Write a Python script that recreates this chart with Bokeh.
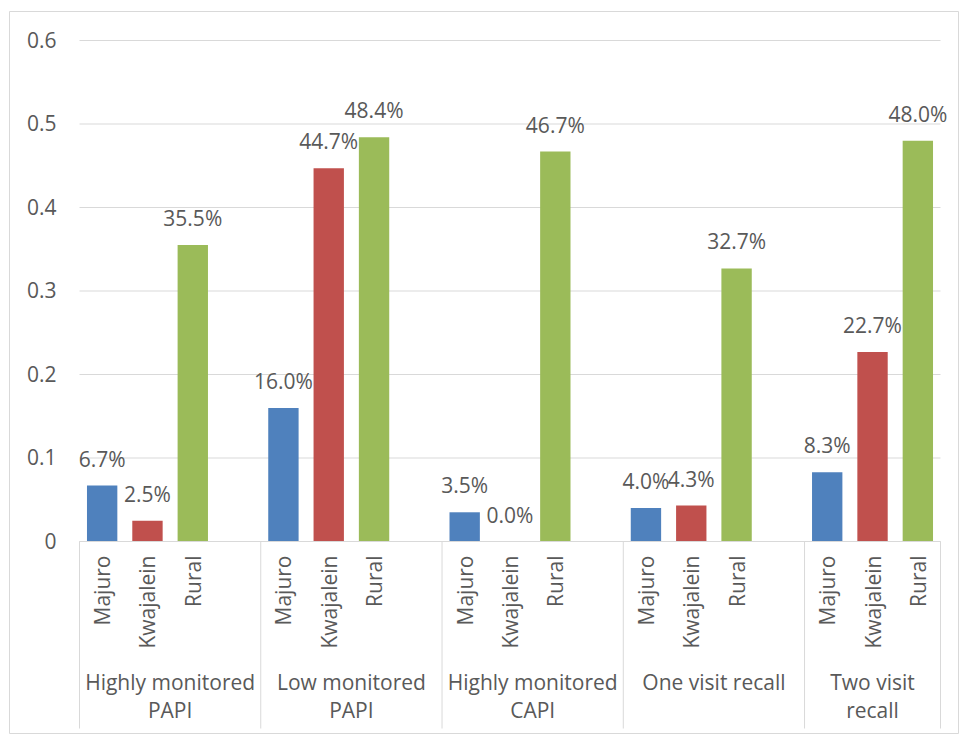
import math

from bokeh.core.properties import value
from bokeh.embed import file_html
from bokeh.models import ColumnDataSource, Range1d
from bokeh.plotting import figure
from bokeh.resources import INLINE

# ---- data -----------------------------------------------------------------
regions = ["Majuro", "Kwajalein", "Rural"]
group_line1 = ["Highly monitored", "Low monitored", "Highly monitored",
               "One visit recall", "Two visit"]
group_line2 = ["PAPI", "PAPI", "CAPI", "", "recall"]

majuro = [0.067, 0.160, 0.035, 0.040, 0.083]
kwajalein = [0.025, 0.447, 0.000, 0.043, 0.227]
rural = [0.355, 0.484, 0.467, 0.327, 0.480]

y_ticks = [0.0, 0.1, 0.2, 0.3, 0.4, 0.5, 0.6]
y_tick_labels = ["0", "0.1", "0.2", "0.3", "0.4", "0.5", "0.6"]

colors = ["#4F81BD", "#C0504D", "#9BBB59"]

# ---- layout (pixels) ------------------------------------------------------
W, H = 959, 734
frame_left, frame_top = 9, 11
plot_x0, plot_x1 = 79, 940          # category axis extent
y0_px, ytop_px = 541, 40            # pixel rows of 0 and of the top tick
sep_bottom_px = 728

slots_per_group = len(regions) + 1  # one empty slot between groups
n_groups = len(group_line1)
n_slots = slots_per_group * n_groups - 1

slot_px = (plot_x1 - plot_x0) / n_slots
unit_px = (y0_px - ytop_px) / y_ticks[-1]

x_range = Range1d(-(plot_x0 - frame_left) / slot_px,
                  n_slots + (W - plot_x1) / slot_px)
y_range = Range1d(-(H - y0_px) / unit_px, (y0_px - frame_top) / unit_px)
sep_bottom = -(sep_bottom_px - y0_px) / unit_px

TEXT = "#595959"
LINE = "#D9D9D9"
FONT = value("Open Sans")
FS = "21px"

p = figure(width=W, height=H, x_range=x_range, y_range=y_range,
           output_backend="svg", toolbar_location=None,
           x_axis_location=None, y_axis_location=None,
           min_border_left=frame_left, min_border_top=frame_top,
           min_border_right=0, min_border_bottom=0)
p.grid.visible = False
p.outline_line_color = LINE
p.background_fill_color = "white"
p.border_fill_color = "white"

# ---- horizontal grid lines and value-axis labels --------------------------
p.segment(x0=[0] * len(y_ticks), x1=[n_slots] * len(y_ticks),
          y0=y_ticks, y1=y_ticks, line_color=LINE, line_width=1)
p.text(x=[0] * len(y_ticks), y=y_ticks, text=y_tick_labels,
       x_offset=-23, y_offset=-1, text_align="right", text_baseline="middle",
       text_font=FONT, text_font_size=FS, text_color=TEXT)

# ---- bars -----------------------------------------------------------------
series = [majuro, kwajalein, rural]
bar_x, bar_top, bar_color, bar_label, sub_label = [], [], [], [], []
for gi in range(n_groups):
    for ri, name in enumerate(regions):
        v = series[ri][gi]
        bar_x.append(gi * slots_per_group + ri + 0.5)
        bar_top.append(v)
        bar_color.append(colors[ri])
        bar_label.append(f"{v * 100:.1f}%")
        sub_label.append(name)

src = ColumnDataSource(dict(x=bar_x, top=bar_top, color=bar_color,
                            label=bar_label, sub=sub_label,
                            zero=[0.0] * len(bar_x)))

p.vbar(x="x", top="top", bottom=0, width=0.67, fill_color="color",
       line_color=None, source=src)

# value labels above the bars
p.text(x="x", y="top", text="label", y_offset=-27, text_align="center",
       text_baseline="middle", text_font=FONT, text_font_size=FS,
       text_color=TEXT, source=src)

# ---- category axis --------------------------------------------------------
p.segment(x0=[0], x1=[n_slots], y0=[0], y1=[0], line_color=LINE, line_width=1)

seps = [gi * slots_per_group for gi in range(n_groups)] + [n_slots]
p.segment(x0=seps, x1=seps, y0=[0] * len(seps), y1=[sep_bottom] * len(seps),
          line_color=LINE, line_width=1)

# rotated region names
p.text(x="x", y="zero", text="sub", angle=math.pi / 2, y_offset=14,
       text_align="right", text_baseline="middle", text_font=FONT,
       text_font_size=FS, text_color=TEXT, source=src)

# group names (two lines)
centers = [(seps[i] + seps[i + 1]) / 2 for i in range(n_groups)]
p.text(x=centers, y=[0] * n_groups, text=group_line1, y_offset=140,
       text_align="center", text_baseline="middle", text_font=FONT,
       text_font_size=FS, text_color=TEXT)
p.text(x=centers, y=[0] * n_groups, text=group_line2, y_offset=168,
       text_align="center", text_baseline="middle", text_font=FONT,
       text_font_size=FS, text_color=TEXT)

open("out.html", "w").write(file_html(p, INLINE))
